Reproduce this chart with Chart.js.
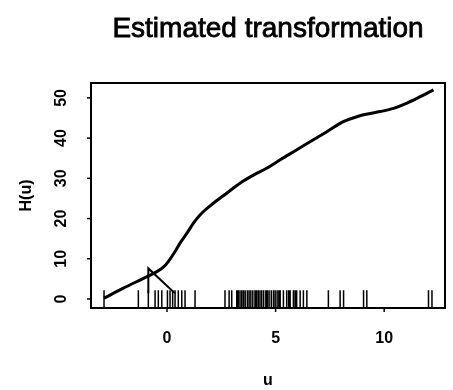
<!DOCTYPE html>
<html>
<head>
<meta charset="utf-8">
<script src="https://cdn.jsdelivr.net/npm/chart.js@4/dist/chart.umd.min.js"></script>
<style>
  html, body { margin: 0; padding: 0; background: #fff; }
  #chart { display: block; }
</style>
</head>
<body>
<canvas id="chart" width="453" height="390"></canvas>
<script>
// estimated transformation H(u)
const curveU = [-2.9, -2.01, -0.94, -0.47, -0.17, 0.06, 0.37, 0.6, 0.91, 1.21, 1.52, 2.13, 2.75, 3.36, 3.98, 4.59, 5.21, 5.98, 6.74, 7.36, 8.12, 8.74, 9.05, 9.82, 10.43, 11.05, 11.66, 12.27]
const curveH = [0.2, 2.7, 5.5, 6.8, 7.9, 9.3, 11.8, 13.9, 16.3, 18.8, 20.9, 23.8, 26.3, 28.8, 30.8, 32.5, 34.6, 37.1, 39.6, 41.6, 44.1, 45.3, 45.8, 46.6, 47.4, 48.7, 50.3, 52.0]

// rug of the observed u values along the bottom
const rugU = [-2.9, -1.32, -0.86, -0.55, -0.4, -0.24, 0.02, 0.14, 0.26, 0.37, 0.52, 0.68, 0.83, 1.29,
  2.67, 2.86, 2.98, 3.21, 3.28, 3.36, 3.44, 3.52, 3.6, 3.7, 3.78, 3.86, 3.95, 4.05, 4.12, 4.2, 4.28,
  4.36, 4.45, 4.55, 4.62, 4.7, 4.8, 4.9, 4.98, 5.07, 5.15, 5.21, 5.36, 5.51, 5.6, 5.67, 5.82, 5.9,
  5.97, 6.13, 6.28, 6.44, 7.43, 7.97, 8.13, 9.05, 9.2, 12.04, 12.2]

// the small stray triangle near u = -1
const markU = [-0.86, -0.86, 0.37]
const markH = [1.4, 7.6, 1.4]

const xTicks = [0, 5, 10]
const yTicks = [0, 10, 20, 30, 40, 50]

const FONT = '"Liberation Sans", Arial, Helvetica, sans-serif'
const yMin = -2.24
const rugTop = 2.2

const rugPoints = []
rugU.forEach(u => {
  rugPoints.push({x: u, y: yMin}, {x: u, y: rugTop}, {x: u, y: null})
})

// box, axes and texts drawn the way R does it
const frame = {
  id: 'frame',
  afterDraw(chart) {
    const {ctx, chartArea: a, scales: {x, y}} = chart
    ctx.save()
    ctx.strokeStyle = '#000'
    ctx.fillStyle = '#000'
    ctx.lineWidth = 2
    ctx.strokeRect(a.left, a.top, a.right - a.left, a.bottom - a.top)

    ctx.lineWidth = 1.5
    ctx.font = 'bold 16px ' + FONT
    ctx.textAlign = 'center'
    ctx.textBaseline = 'middle'
    xTicks.forEach(v => {
      const px = x.getPixelForValue(v)
      ctx.beginPath()
      ctx.moveTo(px, a.bottom)
      ctx.lineTo(px, a.bottom + 4)
      ctx.stroke()
      ctx.fillText(String(v), px, a.bottom + 31)
    })
    yTicks.forEach(v => {
      const py = y.getPixelForValue(v)
      ctx.beginPath()
      ctx.moveTo(a.left - 4, py)
      ctx.lineTo(a.left, py)
      ctx.stroke()
      ctx.save()
      ctx.translate(a.left - 29, py)
      ctx.rotate(-Math.PI / 2)
      ctx.fillText(String(v), 0, 0)
      ctx.restore()
    })

    ctx.fillText('u', (a.left + a.right) / 2, 381)
    ctx.save()
    ctx.translate(27, (a.top + a.bottom) / 2)
    ctx.rotate(-Math.PI / 2)
    ctx.fillText('H(u)', 0, 0)
    ctx.restore()

    // main title, a light stroke gives it the weight of the scan
    ctx.font = '28px ' + FONT
    ctx.textBaseline = 'alphabetic'
    ctx.lineWidth = 0.8
    const tx = (a.left + a.right) / 2
    ctx.fillText('Estimated transformation', tx, 37)
    ctx.strokeText('Estimated transformation', tx, 37)
    ctx.restore()
  }
}

new Chart(document.getElementById('chart'), {
  type: 'line',
  data: {
    datasets: [{
      data: curveU.map((u, i) => ({x: u, y: curveH[i]})),
      borderColor: '#000',
      borderWidth: 3,
      cubicInterpolationMode: 'monotone',
      pointRadius: 0
    }, {
      data: rugPoints,
      borderColor: '#000',
      borderWidth: 1.5,
      spanGaps: false,
      pointRadius: 0
    }, {
      data: markU.map((u, i) => ({x: u, y: markH[i]})),
      borderColor: '#000',
      borderWidth: 2,
      pointRadius: 0
    }]
  },
  options: {
    responsive: false,
    animation: false,
    layout: {padding: {left: 91, right: 8, top: 83, bottom: 82}},
    plugins: {legend: {display: false}, tooltip: {enabled: false}},
    scales: {
      x: {type: 'linear', display: false, min: -3.5, max: 12.8},
      y: {display: false, min: yMin, max: 53.7}
    }
  },
  plugins: [frame]
})
</script>
</body>
</html>
